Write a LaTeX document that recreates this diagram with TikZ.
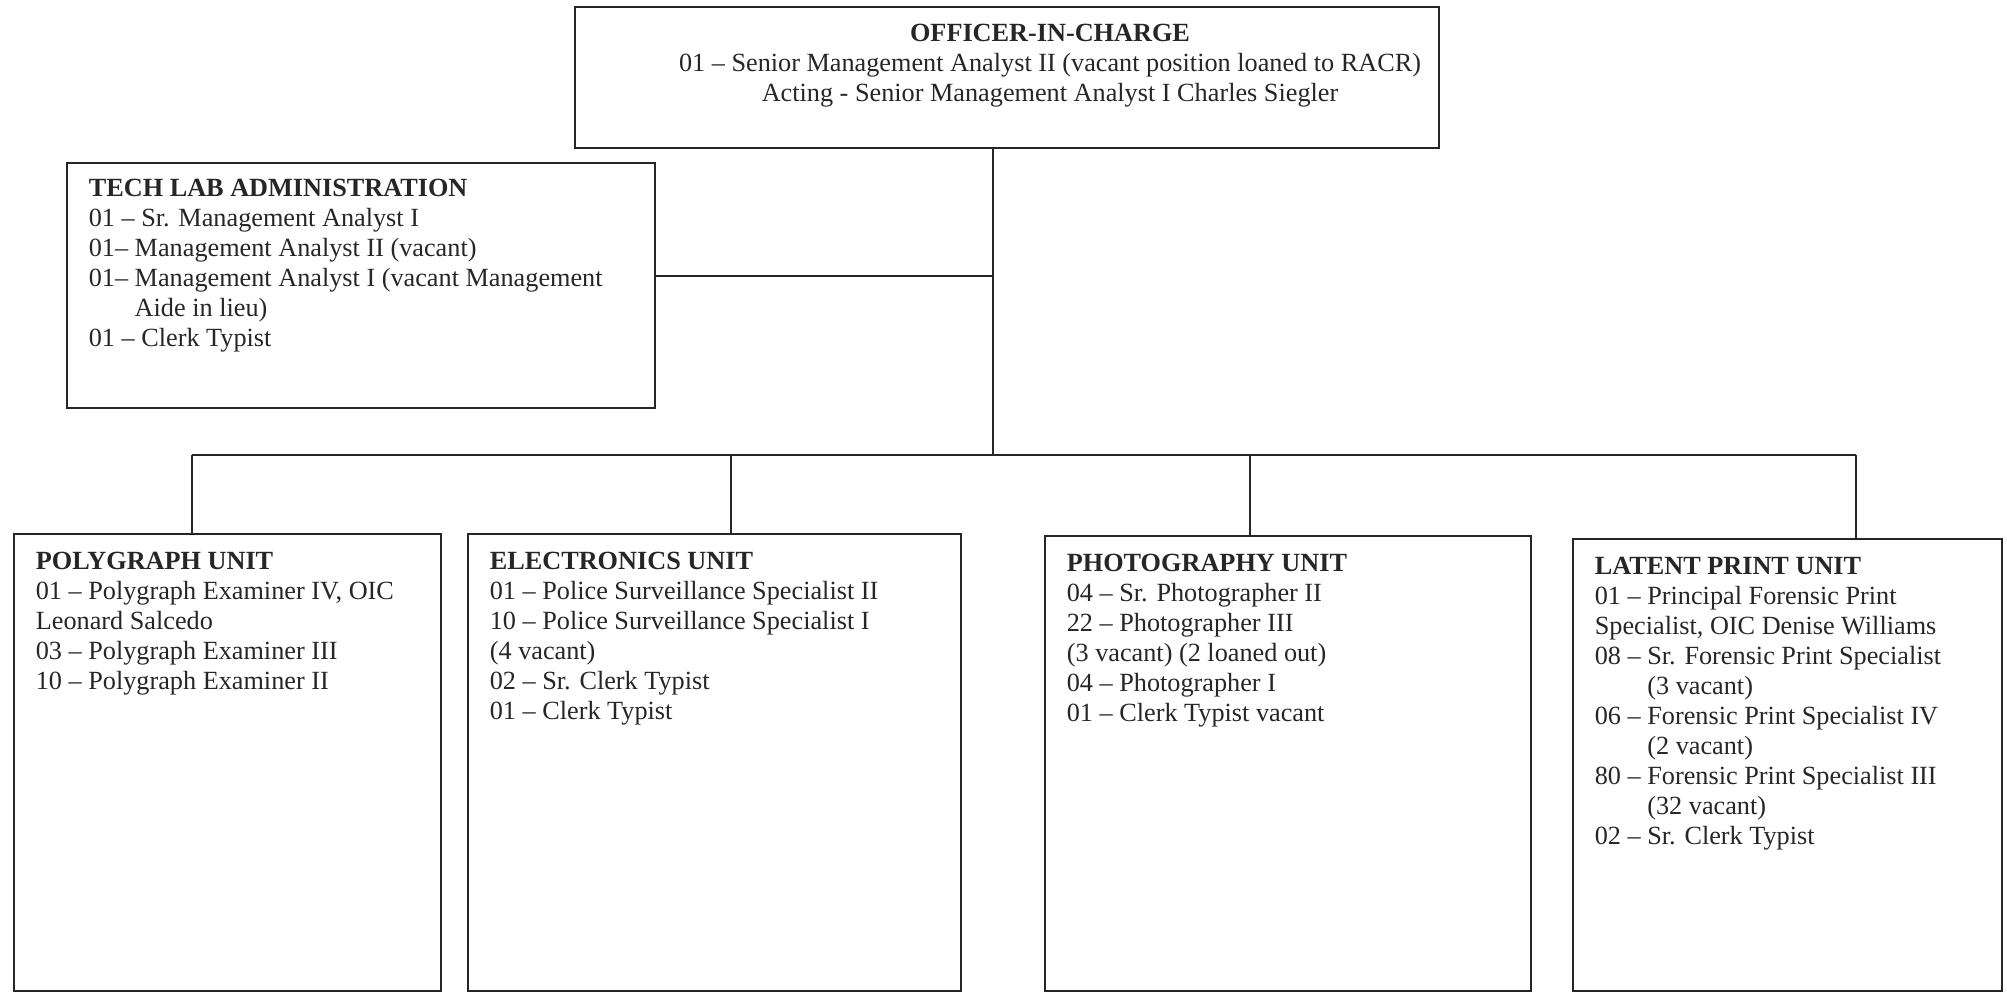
\documentclass[tikz,border=0pt]{standalone}
\usepackage{fontspec}
\setmainfont{Liberation Serif}
\newcommand\orgfont{\fontsize{11.2}{12.8}\selectfont}

\begin{document}
\begin{tikzpicture}[x=0.015cm,y=-0.015cm,
    orgbox/.style={draw=black!85,line width=0.7pt,anchor=north west,
      inner xsep=0.33cm,inner ysep=0.27cm,font=\orgfont,text=black!85},
    link/.style={draw=black!85,line width=0.6pt}]
      \useasboundingbox (0,0) rectangle (2007,993);
      %% Top
      \node[orgbox,minimum width=12.96cm,minimum height=2.115cm] (1) at (574,6) {};
      \node[anchor=north,inner sep=0pt,align=center,font=\orgfont,text=black!85] (1a) at (1050,24)
        {\textbf{OFFICER-IN-CHARGE}\\
         01 -- Senior Management Analyst II (vacant position loaned to RACR)\\
         Acting - Senior Management Analyst I Charles Siegler};
      \node[orgbox,inner ysep=0.24cm] (2) at (66,162) {\parbox[t][3.195cm][t]{8.16cm}{\raggedright
        \textbf{TECH LAB ADMINISTRATION}\\
        01 -- Sr. Management Analyst I\\
        01-- Management Analyst II (vacant)\\
        01-- Management Analyst I (vacant Management\\
        \phantom{01-- }Aide in lieu)\\
        01 -- Clerk Typist}};
      %% Units
      \node[orgbox] (3) at (13,533) {\parbox[t][6.315cm][t]{5.745cm}{\raggedright
        \textbf{POLYGRAPH UNIT}\\
        01 -- Polygraph Examiner IV, OIC\\
        Leonard Salcedo\\
        03 -- Polygraph Examiner III\\
        10 -- Polygraph Examiner II}};
      \node[orgbox] (4) at (467,533) {\parbox[t][6.315cm][t]{6.735cm}{\raggedright
        \textbf{ELECTRONICS UNIT}\\
        01 -- Police Surveillance Specialist II\\
        10 -- Police Surveillance Specialist I\\
        (4 vacant)\\
        02 -- Sr. Clerk Typist\\
        01 -- Clerk Typist}};
      \node[orgbox] (5) at (1044,535) {\parbox[t][6.285cm][t]{6.63cm}{\raggedright
        \textbf{PHOTOGRAPHY UNIT}\\
        04 -- Sr. Photographer II\\
        22 -- Photographer III\\
        (3 vacant) (2 loaned out)\\
        04 -- Photographer I\\
        01 -- Clerk Typist vacant}};
      \node[orgbox] (6) at (1572,538) {\parbox[t][6.24cm][t]{5.775cm}{\raggedright
        \textbf{LATENT PRINT UNIT}\\
        01 -- Principal Forensic Print\\
        Specialist, OIC Denise Williams\\
        08 -- Sr. Forensic Print Specialist\\
        \phantom{08 -- }(3 vacant)\\
        06 -- Forensic Print Specialist IV\\
        \phantom{06 -- }(2 vacant)\\
        80 -- Forensic Print Specialist III\\
        \phantom{80 -- }(32 vacant)\\
        02 -- Sr. Clerk Typist}};
      %% Lines
      \coordinate (t) at (993,455);
      \coordinate (j) at (993,276);
      \coordinate (b3) at (192,455);
      \coordinate (b4) at (731,455);
      \coordinate (b5) at (1250,455);
      \coordinate (b6) at (1856,455);
      \draw[link] (1.south -| t) -- (t);
      \draw[link] (2.east |- j) -- (j);
      \draw[link] (b3) -- (b6);
      \draw[link] (b3) -- (b3 |- 3.north);
      \draw[link] (b4) -- (b4 |- 4.north);
      \draw[link] (b5) -- (b5 |- 5.north);
      \draw[link] (b6) -- (b6 |- 6.north);
\end{tikzpicture}
\end{document}
